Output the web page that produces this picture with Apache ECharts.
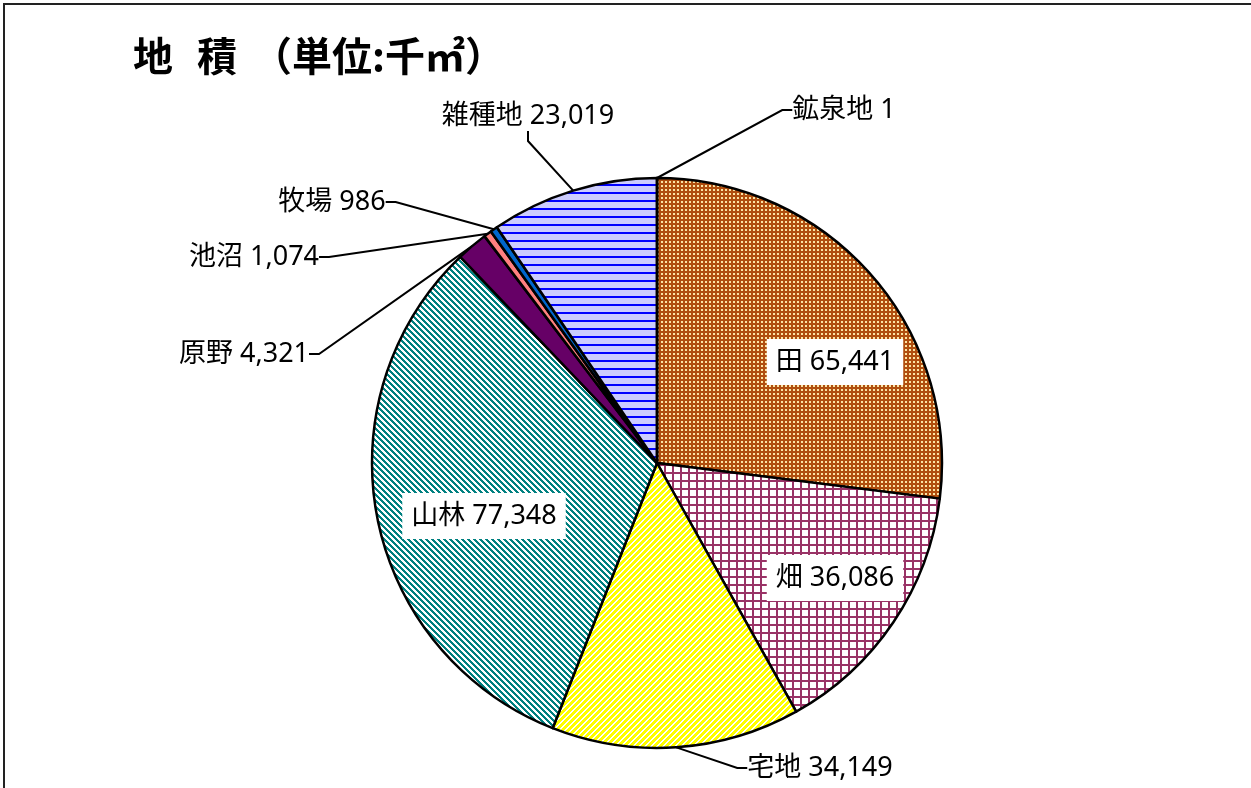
<!DOCTYPE html>
<html>
<head>
    <title>地積</title>
    <meta charset="utf-8">
    <style>
        body { margin: 0; background: #fff; }
        #main { position: absolute; left: 0; top: 0; width: 1251px; height: 788px; }
        #frame { position: absolute; left: 3px; top: 3px; width: 1260px; height: 800px;
                 border-top: 2px solid #222; border-left: 2px solid #222; pointer-events: none; }
    </style>
</head>
<body>
    <div id="main"></div>
    <div id="frame"></div>
    <script type="text/javascript" src="https://cdn.jsdelivr.net/npm/echarts/dist/echarts.min.js"></script>
    <script type="text/javascript">
    // 地目別の面積（千㎡）
    var categories = ['田', '畑', '宅地', '山林', '原野', '池沼', '牧場', '雑種地', '鉱泉地'];
    var areaValues = [65441, 36086, 34149, 77348, 4321, 1074, 986, 23019, 1];
    // 中に表示するラベル
    var insideNames = ['田', '畑', '山林'];

    // ラベルの中心位置（画面座標）
    var labelCenters = {
        '田': [835, 362], '畑': [835, 578], '山林': [484, 516],
        '原野': [244, 354], '池沼': [254, 257], '牧場': [332, 202],
        '雑種地': [528, 116], '鉱泉地': [844, 110], '宅地': [820, 768]
    };

    // 塗りつぶしパターン
    function makePattern(w, h, draw) {
        var c = document.createElement('canvas');
        c.width = w; c.height = h;
        draw(c.getContext('2d'), w, h);
        return { image: c, repeat: 'repeat' };
    }
    function stripes(color, dir, thick) {
        return makePattern(6, 6, function (g) {
            g.fillStyle = '#fff'; g.fillRect(0, 0, 6, 6);
            g.fillStyle = color;
            for (var y = 0; y < 6; y++) {
                for (var x = 0; x < 6; x++) {
                    var k = dir > 0 ? (x + y) % 6 : (x - y + 6) % 6;
                    if (k < thick) g.fillRect(x, y, 1, 1);
                }
            }
        });
    }
    var fills = {
        '田': makePattern(4, 4, function (g) {
            g.fillStyle = '#B04E0E'; g.fillRect(0, 0, 4, 4);
            g.fillStyle = '#FCE4A4'; g.fillRect(1, 1, 2, 2);
        }),
        '畑': makePattern(8, 8, function (g) {
            g.fillStyle = '#fff'; g.fillRect(0, 0, 8, 8);
            g.fillStyle = '#993366'; g.fillRect(0, 0, 8, 2); g.fillRect(0, 0, 2, 8);
        }),
        '宅地': stripes('#FFFF00', 1, 4),
        '山林': stripes('#008080', -1, 3),
        '原野': '#660066',
        '池沼': '#FF8080',
        '牧場': '#0066CC',
        '雑種地': makePattern(8, 8, function (g) {
            g.fillStyle = '#CCCCFF'; g.fillRect(0, 0, 8, 8);
            g.fillStyle = '#0000FF'; g.fillRect(0, 0, 8, 2);
        }),
        '鉱泉地': '#CCFFFF'
    };

    var font = "'Noto Sans', 'Noto Sans CJK JP', sans-serif";
    var pieData = categories.map(function (name, i) {
        var inside = insideNames.indexOf(name) >= 0;
        var item = { name: name, value: areaValues[i], itemStyle: { color: fills[name] } };
        if (inside) {
            item.label = { backgroundColor: '#fff', padding: [8, 9], position: 'inside' };
            item.labelLine = { show: false };
        }
        return item;
    });

    var myChart = echarts.init(document.getElementById('main'));
    var titleStyle = { fontFamily: "'Noto Sans CJK JP', sans-serif", fontSize: 40, fontWeight: 'bold', color: '#000' };
    var option = {
        animation: false,
        title: [
            { text: '地', left: 133, top: 36, padding: 0, textStyle: titleStyle },
            { text: '積', left: 197, top: 36, padding: 0, textStyle: titleStyle },
            { text: '（単位:千㎡）', left: 252, top: 36, padding: 0, textStyle: titleStyle }
        ],
        series: [{
            type: 'pie',
            center: [657, 463],
            radius: 285,
            startAngle: 90,
            clockwise: true,
            avoidLabelOverlap: false,
            itemStyle: { borderColor: '#000', borderWidth: 2.5 },
            label: {
                show: true,
                color: '#000',
                fontFamily: font,
                fontSize: 27,
                lineHeight: 30,
                formatter: function (p) {
                    return p.name + ' ' + p.value.toLocaleString('en-US');
                }
            },
            labelLine: {
                show: true,
                length: 20,
                length2: 10,
                lineStyle: { color: '#000', width: 2 }
            },
            labelLayout: function (params) {
                var c = labelCenters[categories[params.dataIndex]];
                return { x: c[0], y: c[1], align: 'center', verticalAlign: 'middle' };
            },
            emphasis: { disabled: true },
            data: pieData
        }]
    };
    myChart.setOption(option);
    </script>
</body>
</html>
